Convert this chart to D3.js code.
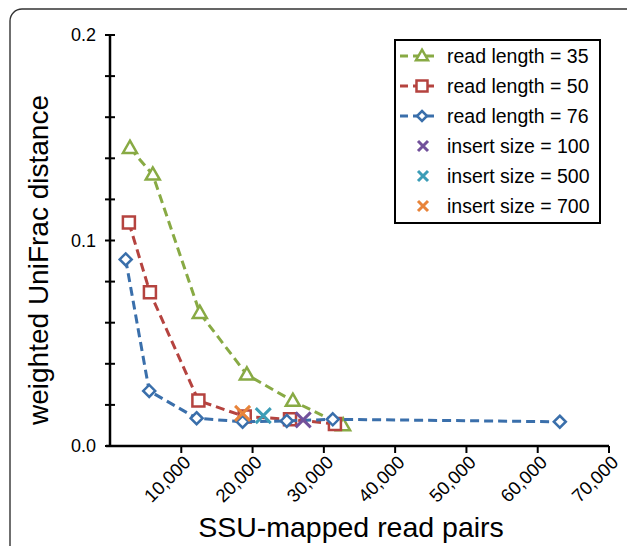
<!DOCTYPE html>
<html><head><meta charset="utf-8">
<script src="https://cdn.jsdelivr.net/npm/d3@7"></script>
<style>body{margin:0;background:#fff;} svg{display:block;} text{font-family:Arial,"Liberation Sans",Helvetica,sans-serif;}</style>
</head><body>
<svg id="chart" width="627" height="546"></svg>
<script>
// ---- data ----
const rl35X = [2800, 6000, 12600, 19200, 25650, 32700];
const rl35Y = [0.145, 0.132, 0.0647, 0.0347, 0.0219, 0.0100];
const rl50X = [2650, 5600, 12400, 18900, 25250, 31550];
const rl50Y = [0.1087, 0.0748, 0.0221, 0.0143, 0.0130, 0.0107];
const rl76X = [2200, 5500, 12150, 18600, 24800, 31250, 63100];
const rl76Y = [0.0908, 0.0268, 0.0135, 0.0118, 0.0122, 0.0130, 0.0118];
const insertLabels = ["insert size = 100", "insert size = 500", "insert size = 700"];
const insertX = [27100, 21500, 18600];
const insertY = [0.0127, 0.0148, 0.0159];
const seriesLabels = ["read length = 35", "read length = 50", "read length = 76"];
const xTicks = [10000, 20000, 30000, 40000, 50000, 60000, 70000];
const yMajor = [0, 0.1, 0.2];
const yMinor = [0.02, 0.04, 0.06, 0.08, 0.12, 0.14, 0.16, 0.18];

const colors = {green:"#88aa44", red:"#b5433f", blue:"#3a6fab", purple:"#72519b", teal:"#3c9db7", orange:"#e8843a"};
const FONT = "Arial, 'Liberation Sans', Helvetica, sans-serif";

const svg = d3.select("#chart");
// frame
svg.append("rect").attr("x",10).attr("y",9).attr("width",660).attr("height",600).attr("rx",12)
  .attr("fill","none").attr("stroke","#333").attr("stroke-width",1.4);

const x = d3.scaleLinear().domain([0,70000]).range([110,609]);
const y = d3.scaleLinear().domain([0,0.2]).range([446,35]);

// axes
svg.append("line").attr("x1",x(0)).attr("x2",x(0)).attr("y1",y(0.2)).attr("y2",y(0)).attr("stroke","#000").attr("stroke-width",2.5);
svg.append("line").attr("x1",x(0)-4).attr("x2",x(70000)).attr("y1",y(0)).attr("y2",y(0)).attr("stroke","#000").attr("stroke-width",2.5);
yMajor.concat(yMinor).forEach(v=>{
  svg.append("line").attr("x1",x(0)-5).attr("x2",x(0)+5).attr("y1",y(v)).attr("y2",y(v)).attr("stroke","#000").attr("stroke-width",2);
});
yMajor.forEach(v=>{
  svg.append("text").attr("x",96).attr("y",y(v)).attr("dy","0.36em").attr("text-anchor","end")
    .attr("font-family",FONT).attr("font-size",18).text(d3.format(".1f")(v));
});
xTicks.forEach(v=>{
  svg.append("line").attr("x1",x(v)).attr("x2",x(v)).attr("y1",y(0)).attr("y2",y(0)+7).attr("stroke","#000").attr("stroke-width",2);
  svg.append("text").attr("transform",`translate(${x(v)+6},${y(0)+13}) rotate(-45)`)
    .attr("text-anchor","end").attr("dy","0.35em").attr("font-family",FONT).attr("font-size",18.5).text(d3.format(",")(v));
});
svg.append("text").attr("x",351).attr("y",537).attr("text-anchor","middle").attr("font-family",FONT).attr("font-size",28.5).text("SSU-mapped read pairs");
svg.append("text").attr("transform","translate(48,260) rotate(-90)").attr("text-anchor","middle").attr("font-family",FONT).attr("font-size",28).text("weighted UniFrac distance");

// marker shapes
function triPath(s){const h=s*0.87;return `M0,${-h*0.6}L${s/2},${h*0.4}L${-s/2},${h*0.4}Z`;}
function sqPath(s){return `M${-s/2},${-s/2}H${s/2}V${s/2}H${-s/2}Z`;}
function diaPath(s){return `M0,${-s/2}L${s/2},0L0,${s/2}L${-s/2},0Z`;}
function xPath(s){const r=s/2;return `M${-r},${-r}L${r},${r}M${r},${-r}L${-r},${r}`;}

const line = d3.line().x(d=>x(d[0])).y(d=>y(d[1]));
function drawSeries(xs, ys, color, shapePath){
  const pts = xs.map((v,i)=>[v, ys[i]]);
  svg.append("path").attr("d",line(pts)).attr("fill","none").attr("stroke",color).attr("stroke-width",3).attr("stroke-dasharray","9,5");
  pts.forEach(p=>{
    svg.append("path").attr("d",shapePath).attr("transform",`translate(${x(p[0])},${y(p[1])})`)
      .attr("fill","#fff").attr("stroke",color).attr("stroke-width",2.5);
  });
}
drawSeries(rl35X, rl35Y, colors.green, triPath(14));
drawSeries(rl50X, rl50Y, colors.red, sqPath(12));
drawSeries(rl76X, rl76Y, colors.blue, diaPath(12));
const insertColors = [colors.purple, colors.teal, colors.orange];
insertX.forEach((v,i)=>{
  svg.append("path").attr("d",xPath(15)).attr("transform",`translate(${x(v)},${y(insertY[i])})`)
    .attr("fill","none").attr("stroke",insertColors[i]).attr("stroke-width",3);
});

// legend
const lg = svg.append("g");
lg.append("rect").attr("x",395).attr("y",40).attr("width",205).attr("height",183).attr("fill","#fff").attr("stroke","#000").attr("stroke-width",2);
const legendItems = [
  {label:seriesLabels[0], color:colors.green, shape:triPath(12), line:true},
  {label:seriesLabels[1], color:colors.red, shape:sqPath(11), line:true},
  {label:seriesLabels[2], color:colors.blue, shape:diaPath(10), line:true},
  {label:insertLabels[0], color:colors.purple, shape:xPath(10), line:false},
  {label:insertLabels[1], color:colors.teal, shape:xPath(10), line:false},
  {label:insertLabels[2], color:colors.orange, shape:xPath(10), line:false}
];
legendItems.forEach((it,i)=>{
  const cy = 56 + i*30;
  if(it.line){
    lg.append("line").attr("x1",400).attr("x2",438).attr("y1",cy).attr("y2",cy).attr("stroke",it.color).attr("stroke-width",3).attr("stroke-dasharray","8,5");
    lg.append("path").attr("d",it.shape).attr("transform",`translate(422,${cy})`).attr("fill","#fff").attr("stroke",it.color).attr("stroke-width",2.5);
  } else {
    lg.append("path").attr("d",it.shape).attr("transform",`translate(423,${cy})`).attr("fill","none").attr("stroke",it.color).attr("stroke-width",3);
  }
  lg.append("text").attr("x",447).attr("y",cy).attr("dy","0.36em").attr("font-family",FONT).attr("font-size",19.5).text(it.label);
});
</script>
</body></html>
